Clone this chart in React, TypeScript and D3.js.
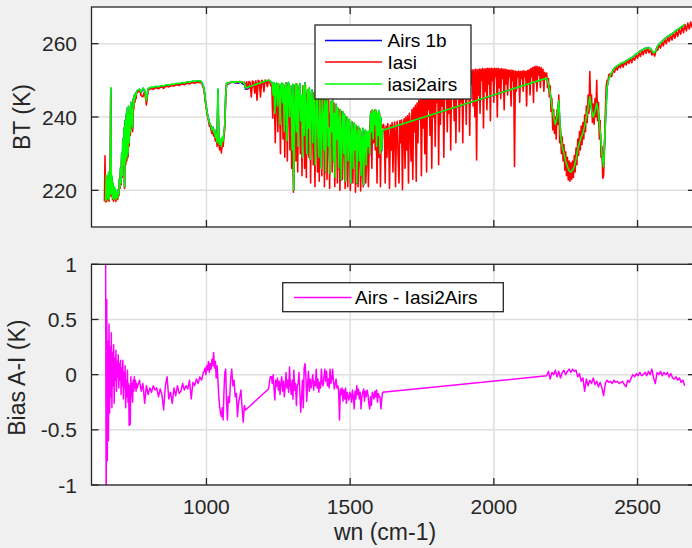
import React from 'react';
import * as d3 from 'd3';

// ---------- tick labels ----------
const xTicks = [1000, 1500, 2000, 2500];
const yTicksTop = [220, 240, 260];
const yTicksBot = [-1, -0.5, 0, 0.5, 1];
const yTickLabelsBot = ['-1', '-0.5', '0', '0.5', '1'];

// ---------- iasi2airs BT (K) on AIRS channel grid ----------
const i2aLw = [217, 224, 217.5, 223, 218, 225, 217.5, 222, 219, 248, 219, 224, 218, 222, 217.5, 221, 218, 220.5, 217.5, 219.5, 218.5, 218, 220, 219, 223, 221, 226, 222, 230, 224, 234, 227, 237, 221, 239, 228, 241, 229, 242.5, 230, 243, 233, 240.5, 236, 244, 238, 242, 237, 245, 243, 246, 245, 246.5, 246, 247, 247.2];
const i2aPlat = [247.3, 247.6, 246.8, 247.9, 247.4, 244.5, 247.8, 248, 248.2, 248.1, 248.3, 248.4, 248.2, 248.5, 248.6, 248.4, 248.7, 248.8, 248.7, 248.9, 249, 248.9, 249.1, 249.2, 249.1, 249.3, 249.4, 249.3, 249.5, 249.6, 249.5, 249.7, 249.8, 249.7, 249.9, 249.8, 249.9, 249.6, 248.5];
const i2aO3 = [247.5, 245.5, 243.5, 242, 240.5, 239.5, 238.5, 238, 237.4, 236.5, 237.2, 235.8, 236.5, 234.5, 235.5, 233, 247.6, 233.5, 232.5, 234, 232, 234.5, 233.5, 236, 238, 246, 249.2, 249.4, 249.3];
const i2aWin = [249.4, 249.5, 249.6, 249.5, 249.6, 249.4, 249.7, 249.6, 249.5, 249.7, 249.6, 249.5, 249.4, 249.2];
const i2aGapA = [247.9];
const i2aGapB = [250.1, 249.8];
const i2aWv = [
  249.6, 249.2, 246, 249.4, 241, 248.8, 249.3, 243, 249.1, 247,
  238, 248.5, 249.2, 244, 249, 236, 247.5, 249.3, 233.5, 248,
  249.5, 240, 248.6, 245, 231, 249, 220, 243, 249, 236,
  248.8, 232, 247, 249.2, 239, 246, 229, 248.5, 235, 249.2,
  242, 230, 247.5, 237, 248, 228.5, 245, 247.4, 233, 244,
  246.8, 227, 241, 246.5, 235, 229, 245.8, 238, 226, 245.5,
  240, 231, 245, 225, 243, 244.8, 232, 237, 224.5, 244.2,
  236, 244.6, 228, 241, 223.5, 243.5, 234, 242.5, 226, 239,
  242, 223, 236, 241.5, 230, 240.6, 222.5, 237, 240, 228,
  239.4, 234, 222, 238.8, 236, 226, 238.5, 231, 237.8, 222,
  235, 237.4, 228, 236.5, 224, 233, 237, 221.5, 234, 236.5,
  227, 236, 232, 236.2, 230, 241, 236, 242, 234, 241.5,
  238, 242, 232, 241, 235, 241.8, 230, 240, 231, 236.4];
const i2aSw = [250.6, 249, 246.5, 243, 240, 238, 240, 244.5, 235, 232, 230, 228, 226.5, 225.3, 225, 225.5, 226.5, 228.5, 231, 233, 234.5, 235.6, 237.5, 240, 242.5, 245.5, 242, 240, 241.5, 243.7, 241, 236, 230, 226.4, 238, 248.2, 250.5,
  251.5, 252.4, 253.2, 253.7, 254, 254.3, 254.6, 254.8, 255, 255.3, 255.6, 255.9, 256.1, 256.4, 256.8, 257.2, 257.5, 257.9, 258.2, 258.4, 258.7, 258.8, 258.9, 258.7, 258.1, 257.5, 257.8, 259.1, 259.8, 260.2, 260.7, 261.1, 261.6, 261.9, 262.2, 262.5, 262.8, 263.2, 263.6, 263.9, 264.2, 264.6, 264.9, 265.2];

// ---------- bias Airs - Iasi2Airs (K), same grid ----------
const biasLw = [1.3, -1.3, 0.68, -0.78, 0.3, -0.6, 0.46, -0.35, 0.25, -0.2, 0.38, -0.3, 0.2, -0.1, 0.27, -0.26, 0.15, -0.05, 0.22, -0.15, 0.12, -0.02, 0.18, -0.12, 0.1, -0.05, 0.13, -0.18, 0.06, -0.1, 0.13, -0.22, 0.02, -0.12, 0.08, -0.3, -0.05, -0.2, 0.04, -0.25, -0.08, -0.46, -0.1, -0.45, -0.02, -0.2, -0.08, -0.25, -0.05, -0.15, -0.02, -0.12, -0.05, -0.15, -0.08, -0.12];
const biasPlat = [-0.1, -0.05, -0.15, -0.08, -0.26, -0.1, -0.18, -0.12, -0.16, -0.1, -0.14, -0.12, -0.2, -0.13, -0.18, -0.32, -0.1, -0.02, -0.22, -0.16, -0.26, -0.12, -0.19, -0.1, -0.17, -0.15, -0.08, -0.14, -0.1, -0.13, -0.05, -0.22, -0.07, -0.1, -0.04, -0.08, -0.02, -0.05, 0.02];
const biasO3 = [0.03, 0.06, 0, 0.08, 0.04, 0.12, 0.02, 0.1, 0.05, 0.14, 0.08, 0.2, 0.06, 0.12, -0.03, 0.08, -0.05, -0.2, -0.29, -0.35, -0.38, -0.3, -0.41, -0.15, 0.02, 0.05, -0.25, -0.41, -0.2];
const biasWin = [-0.25, -0.05, 0.05, -0.1, -0.05, -0.2, -0.17, -0.38, -0.25, -0.2, -0.14, -0.3, -0.43, -0.28];
const biasGapA = [-0.32];
const biasGapB = [-0.13, -0.02];
const biasWv = [
  -0.02, -0.08, 0, -0.12, -0.23, -0.05, -0.1, -0.03, -0.14, -0.06,
  -0.18, -0.08, -0.02, -0.15, -0.06, -0.2, -0.1, 0.02, -0.12, -0.05,
  -0.16, 0.07, -0.1, -0.18, -0.05, -0.22, 0.04, -0.14, -0.08, -0.28,
  -0.1, -0.08, 0.02, -0.16, -0.34, -0.2, -0.05, -0.3, 0.06, 0.1,
  -0.02, -0.24, -0.08, 0.03, -0.15, -0.04, -0.12, -0.06, 0, -0.14,
  -0.06, -0.1, 0.05, -0.12, -0.04, -0.16, -0.07, -0.12, 0.05, -0.08,
  -0.1, -0.02, 0.05, -0.06, 0.03, -0.1, -0.04, -0.12, 0.05, -0.08,
  -0.04, 0.05, -0.06, -0.13, -0.08, -0.04, -0.12, -0.1, -0.15, -0.41,
  -0.13, -0.18, -0.12, -0.24, -0.14, -0.22, -0.12, -0.26, -0.16, -0.2,
  -0.23, -0.16, -0.18, -0.25, -0.14, -0.2, -0.31, -0.15, -0.22, -0.1,
  -0.18, -0.13, -0.22, -0.16, -0.31, -0.2, -0.16, -0.13, -0.24, -0.15,
  -0.2, -0.14, -0.18, -0.26, -0.31, -0.2, -0.28, -0.16, -0.18, -0.22,
  -0.15, -0.2, -0.14, -0.25, -0.17, -0.2, -0.2, -0.31, -0.22, -0.16];
const biasSw = [-0.01, 0.03, -0.04, 0.02, 0, 0.04, -0.02, 0.03, -0.03, 0.02, 0.04, 0, 0.03, 0.05, 0.02, 0.05, 0.03, 0.04, -0.02, 0.01, -0.06, -0.03, -0.15, -0.04, -0.1, -0.05, -0.08, -0.03, -0.09, -0.06, -0.11, -0.07, -0.12, -0.19, -0.08, -0.05, -0.07,
  -0.06, -0.08, -0.05, -0.07, -0.06, -0.08, -0.07, -0.06, -0.09, -0.11, -0.05, -0.07, -0.03, 0, -0.02, 0.01, -0.01, 0.02, -0.01, 0, 0.02, -0.01, 0.03, 0, 0.05, -0.03, -0.08, 0.02, 0, 0.03, -0.01, 0.02, 0, 0.02, -0.02, 0.01, -0.03, -0.04, -0.02, -0.05, -0.03, -0.07, -0.05, -0.1];

// AIRS channel grid: first wn and spacing of each block
const airsSegs = [
  { start: 649, step: 2, bt: i2aLw, bias: biasLw },
  { start: 761, step: 6, bt: i2aPlat, bias: biasPlat },
  { start: 992, step: 3, bt: i2aO3, bias: biasO3 },
  { start: 1080, step: 4, bt: i2aWin, bias: biasWin },
  { start: 1136, step: 1, bt: i2aGapA, bias: biasGapA },
  { start: 1216, step: 6, bt: i2aGapB, bias: biasGapB },
  { start: 1226, step: 3, bt: i2aWv, bias: biasWv },
  { start: 2184, step: 6, bt: i2aSw, bias: biasSw },
];

// ---------- IASI BT (K) ----------
const iasiLw = [217, 229.4, 216.8, 223, 217, 222, 217.5, 224, 217, 221, 218.5, 246, 218.5, 223, 217.5, 221, 217, 220, 217.5, 219.5, 217, 219, 218, 217.5, 219.5, 218.5, 222, 220.5, 225, 221.5, 229, 223.5, 233, 226, 236, 220.5, 238, 227, 240, 228, 241.5, 229, 242, 232, 239.5, 235, 243, 237, 241, 236, 244, 242, 245.5, 244, 246, 245, 246.5, 246.8];
const iasiPlat = [246.8, 247.2, 245.8, 245.5, 247, 243.3, 247.3, 247.6, 247.8, 247.5, 247.9, 248, 247.7, 248.1, 248.2, 247.8, 248.3, 248.4, 248.2, 248.5, 248.6, 248.4, 248.7, 248.8, 248.6, 248.9, 249, 248.8, 249.1, 249.2, 249, 249.3, 249.4, 249.2, 249.5, 249.4, 249.5, 249.2, 248];
const iasiO3 = [247, 245, 243, 241.5, 240, 239, 237.5, 237.5, 236.5, 235.5, 236.5, 234.8, 235.5, 233.5, 234.5, 232, 246, 232.5, 231, 232.5, 230.2, 233, 232, 235, 237, 245.5, 249, 249.2, 249.1];
const iasiWin = [249.3, 249.5, 249.4, 249.6, 249.5, 249.6, 249.3, 249.6, 249.5, 249.7, 249.5, 249.6, 249.3, 249.5, 248.2, 249.6, 247.5, 249.7, 249.4, 245.5, 249.8, 249.5, 246.5, 249.9, 244.6, 250, 249.6, 245.5, 250, 249.7, 246.9, 250.1, 249.8, 248.3, 250.1, 249.6, 248.5];
const iasiWv = [
  248.5, 239.7, 248.8, 244, 233, 248.5, 246, 236, 249, 245,
  230, 248, 249, 234, 247.5, 229, 249, 246, 228, 249.3,
  247, 231, 248.5, 226, 240, 219.5, 244, 248.6, 228, 249,
  225, 247, 248.5, 230, 245, 224, 248.5, 246, 226, 248.8,
  223.5, 246, 247.2, 229, 244, 222, 247, 245, 227, 246.6,
  221, 245, 240, 225, 246.2, 222.5, 243, 245.8, 224, 241,
  245.4, 221, 240, 244.8, 223, 239, 244.5, 220.5, 240, 244.3,
  225, 238, 243.8, 221, 236, 242.8, 222, 237, 242, 220,
  237, 241.5, 223, 234, 240.8, 220.5, 236, 240, 221, 235,
  239.3, 220, 234, 238.7, 222, 233, 238, 219.5, 232, 237.3,
  221, 231, 236.8, 219.8, 229, 236.2, 221, 230, 235.8, 222,
  230, 235.6, 221, 234, 238, 241.5, 226, 241, 233, 241.8,
  231, 241.5, 222, 240.8, 229, 241, 221, 238, 237];
const iasiMid = [
  238, 236.5, 222, 237.5, 229, 238.2, 234, 220.5, 237.8, 231,
  238.5, 225, 237, 238.6, 221, 236, 238.8, 229, 222, 239,
  233, 239.2, 220.2, 237.5, 239.5, 226, 240, 231, 240.3, 222,
  241, 238, 228, 242, 223, 242.5, 236, 243.2, 222.5, 243.8,
  233, 244.5, 240, 245.2, 224, 245.8, 237, 246.3, 230, 246.8,
  225, 247.3, 242, 247.7, 235, 248.1, 226, 248.4, 240, 248.7,
  232, 249, 244, 249.3, 227, 249.6, 238, 249.9, 243, 250.2,
  229, 250.5, 245, 250.7, 236, 251, 241, 251.2, 231, 251.4,
  246, 251.6, 239, 251.8, 233, 252, 247, 252.1, 236, 252.3,
  244, 252.4, 233, 252.3, 248, 252.5, 238, 252.6, 245, 252.5,
  235, 252.7, 249, 252.8, 243, 252.9, 240, 253, 228.3, 252.9,
  246, 253.1, 241, 253, 250, 253.2, 237, 253.1, 247, 253.2,
  242, 253.3, 249, 253.2, 239, 253.3, 250, 253.2, 244, 253.3,
  251, 253.2, 240, 253.3, 248, 253.1, 245, 253.2, 250.5, 253,
  242, 253.1, 249, 252.9, 246, 252.8, 251, 252.7, 243, 252.8,
  250, 252.6, 226.5, 252.5, 247, 252.4, 251, 252.5, 244, 252.4,
  250.5, 252.5, 247, 252.6, 251, 252.4, 243, 252.7, 249.5, 252.9,
  246, 253.2, 251, 253.5, 244, 253.7, 250, 253.8, 247, 253.7,
  251.5, 253.6, 248, 253.4, 250.5, 253, 247, 252.2, 251];
const iasiSw1 = [252, 248, 250.5, 245.5, 248.5, 241.5, 245, 236.5, 242, 235.5, 240, 234, 242, 238, 246, 233, 237, 230, 234.5, 228, 232.5, 225.5, 230.5, 224, 229, 222.8, 228, 222.5, 227.5, 223, 228, 223.5, 229.5, 225, 231.5, 227, 234, 229.5, 236, 231, 237.5, 232.5, 238.5, 234, 240.5, 236, 243, 238.5, 246, 241, 252.4, 243, 246, 238.5, 243.5, 238, 245, 240, 250, 239, 244, 234, 239, 229, 232, 223.3, 224, 232, 241, 248.3, 250, 249.5, 251.5];
const iasiSw2 = [251.8, 251, 252.8, 252.2, 253.6, 252.8, 254.2, 253.4, 254.7, 253.6, 255, 254.2, 255.5, 254.6, 256, 254.8, 256.3, 255.5, 257, 256, 257.6, 256.5, 258.1, 257, 258.6, 257.4, 258.8, 257.5, 258.5, 256.9, 257.4, 256.6, 258.5, 258.2, 259.6, 258.8, 260.5, 259.4, 261.3, 260, 261.8, 260.6, 262.3, 261, 262.9, 261.5, 263.4, 262, 264, 262.6, 264.6, 263, 265.2, 263.5, 265.6, 264, 265.9, 264.5, 266.2];

const iasiSegs = [
  { start: 645, step: 2, bt: iasiLw },
  { start: 761, step: 6, bt: iasiPlat },
  { start: 992, step: 3, bt: iasiO3 },
  { start: 1080, step: 4, bt: iasiWin },
  { start: 1227.5, step: 3, bt: iasiWv },
  { start: 1616, step: 3, bt: iasiMid },
  { start: 2184, step: 3, bt: iasiSw1 },
  { start: 2405, step: 5, bt: iasiSw2 },
];

type P = { wn: number; v: number };

function buildAirs() {
  const i2a: P[] = [];
  const airs: P[] = [];
  const bias: P[] = [];
  airsSegs.forEach((s) => {
    s.bt.forEach((b, i) => {
      const wn = s.start + i * s.step;
      const d = s.bias[i] ?? 0;
      i2a.push({ wn, v: b });
      bias.push({ wn, v: d });
      airs.push({ wn, v: b + d }); // Airs = iasi2airs + (Airs - iasi2airs)
    });
  });
  return { i2a, airs, bias };
}

function buildIasi() {
  const out: P[] = [];
  iasiSegs.forEach((s) => s.bt.forEach((b, i) => out.push({ wn: s.start + i * s.step, v: b })));
  return out;
}

const FONT = 'Liberation Sans, Arial, Helvetica, sans-serif';
const AX = '#262626';
const GRID = '#dfdfdf';

export default function App() {
  const W = 692, H = 548;
  const L = 91.5, R = 695;
  const t1 = 7, b1 = 227, t2 = 264.3, b2 = 485;
  const x = d3.scaleLinear().domain([600, 2700]).range([L, R]);
  const y1 = d3.scaleLinear().domain([210, 270]).range([b1, t1]);
  const y2 = d3.scaleLinear().domain([-1, 1]).range([b2, t2]);

  const { i2a, airs, bias } = buildAirs();
  const iasi = buildIasi();

  const line1 = d3.line<P>().x((d) => x(d.wn)).y((d) => y1(d.v));
  const line2 = d3.line<P>().x((d) => x(d.wn)).y((d) => y2(d.v));

  const tk = 7;

  const axesFrame = (top: number, bot: number, yTicks: number[], ys: (v: number) => number, labels: string[] | null, showX: boolean) => (
    <g>
      <rect x={L} y={top} width={R - L} height={bot - top} fill="none" stroke={AX} strokeWidth={1.3} />
      {xTicks.map((t) => (
        <g key={'xt' + t}>
          <line x1={x(t)} x2={x(t)} y1={top} y2={top + tk} stroke={AX} strokeWidth={1.3} />
          <line x1={x(t)} x2={x(t)} y1={bot} y2={bot - tk} stroke={AX} strokeWidth={1.3} />
          {showX && (
            <text x={x(t)} y={bot + 21} textAnchor="middle" dominantBaseline="central" fontSize={21} fill={AX} fontFamily={FONT}>{t}</text>
          )}
        </g>
      ))}
      {yTicks.map((t, i) => (
        <g key={'yt' + t}>
          <line x1={L} x2={L + tk} y1={ys(t)} y2={ys(t)} stroke={AX} strokeWidth={1.3} />
          <line x1={R} x2={R - tk} y1={ys(t)} y2={ys(t)} stroke={AX} strokeWidth={1.3} />
          <text x={77} y={ys(t)} textAnchor="end" dominantBaseline="central" fontSize={21} fill={AX} fontFamily={FONT}>{labels ? labels[i] : t}</text>
        </g>
      ))}
    </g>
  );

  const grid = (top: number, bot: number, yTicks: number[], ys: (v: number) => number) => (
    <g>
      {xTicks.map((t) => (
        <line key={'gx' + t} x1={x(t)} x2={x(t)} y1={top} y2={bot} stroke={GRID} strokeWidth={1.5} />
      ))}
      {yTicks.map((t) => (
        <line key={'gy' + t} x1={L} x2={R} y1={ys(t)} y2={ys(t)} stroke={GRID} strokeWidth={1.5} />
      ))}
    </g>
  );

  return (
    <svg width={W} height={H} style={{ position: 'absolute', left: 0, top: 0 }} fontFamily={FONT}>
      <defs>
        <clipPath id="c1"><rect x={L} y={t1} width={R - L} height={b1 - t1} /></clipPath>
        <clipPath id="c2"><rect x={L} y={t2} width={R - L} height={b2 - t2} /></clipPath>
      </defs>
      <rect x={0} y={0} width={W} height={H} fill="#f0f0f0" />

      {/* top axes */}
      <rect x={L} y={t1} width={R - L} height={b1 - t1} fill="#ffffff" />
      {grid(t1, b1, yTicksTop, y1)}
      <g clipPath="url(#c1)" fill="none" strokeLinejoin="round">
        <path d={line1(airs) || ''} stroke="#0000ff" strokeWidth={1.6} />
        <path d={line1(iasi) || ''} stroke="#ff0000" strokeWidth={1.6} />
        <path d={line1(i2a) || ''} stroke="#00ff00" strokeWidth={1.6} />
      </g>
      {axesFrame(t1, b1, yTicksTop, y1, null, false)}
      <text transform={`translate(30,${(t1 + b1) / 2}) rotate(-90)`} textAnchor="middle" fontSize={23} fill={AX} fontFamily={FONT}>BT (K)</text>

      {/* top legend */}
      <g>
        <rect x={315} y={25} width={156} height={74} fill="#ffffff" stroke={AX} strokeWidth={1.3} />
        {[
          { label: 'Airs 1b', color: '#0000ff', yy: 40.5 },
          { label: 'Iasi', color: '#ff0000', yy: 62 },
          { label: 'iasi2airs', color: '#00ff00', yy: 84 },
        ].map((e) => (
          <g key={e.label}>
            <line x1={325} x2={382} y1={e.yy} y2={e.yy} stroke={e.color} strokeWidth={1.3} />
            <text x={387.5} y={e.yy} dominantBaseline="central" fontSize={19} fill="#000" fontFamily={FONT}>{e.label}</text>
          </g>
        ))}
      </g>

      {/* bottom axes */}
      <rect x={L} y={t2} width={R - L} height={b2 - t2} fill="#ffffff" />
      {grid(t2, b2, yTicksBot, y2)}
      <g clipPath="url(#c2)" fill="none" strokeLinejoin="round">
        <path d={line2(bias) || ''} stroke="#ff00ff" strokeWidth={1.5} />
      </g>
      {axesFrame(t2, b2, yTicksBot, y2, yTickLabelsBot, true)}
      <text transform={`translate(25,${(t2 + b2) / 2 + 3}) rotate(-90)`} textAnchor="middle" fontSize={23} fill={AX} fontFamily={FONT}>Bias A-I (K)</text>
      <text x={385} y={540} textAnchor="middle" fontSize={23} fill={AX} fontFamily={FONT}>wn (cm-1)</text>

      {/* bottom legend */}
      <g>
        <rect x={282.7} y={282.7} width={220.6} height={29} fill="#ffffff" stroke={AX} strokeWidth={1.3} />
        <line x1={294} x2={351.5} y1={297.5} y2={297.5} stroke="#ff00ff" strokeWidth={1.3} />
        <text x={355} y={297.5} dominantBaseline="central" fontSize={19} fill="#000" fontFamily={FONT}>Airs - Iasi2Airs</text>
      </g>
    </svg>
  );
}
